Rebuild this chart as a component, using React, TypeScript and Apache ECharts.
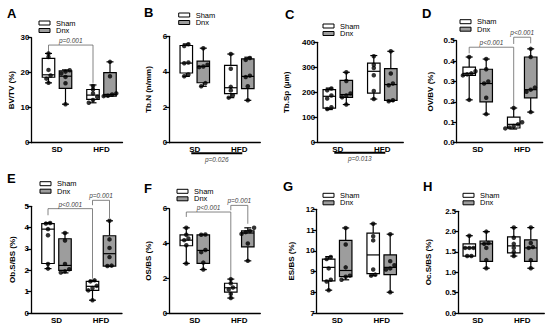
import React, { useEffect, useRef } from 'react';
import * as echarts from 'echarts';

// ---------- data ----------
const groupLabels = ['SD', 'HFD'];
const legendLabels = ['Sham', 'Dnx'];
const panelLetters = ['A', 'B', 'C', 'D', 'E', 'F', 'G', 'H'];
const yNames = ['BV/TV (%)', 'Tb.N (n/mm)', 'Tb.Sp (µm)', 'OV/BV (%)', 'Ob.S/BS (%)', 'OS/BS (%)', 'ES/BS (%)', 'Oc.S/BS (%)'];

// box stats [min, Q1, median, Q3, max] for Sham-SD, Dnx-SD, Sham-HFD, Dnx-HFD
const bvtvBox = [[17.1, 18.7, 19.4, 24.1, 25.5], [11.0, 15.5, 19.0, 20.5, 20.8], [11.4, 12.4, 13.6, 15.2, 16.5], [13.3, 13.3, 13.8, 20.0, 23.1]];
const bvtvPts = [[17.1, 18.3, 19.2, 20.8, 24.5, 25.5], [11.0, 17.0, 18.8, 19.8, 20.3, 20.7], [11.4, 12.2, 13.1, 14.1, 15.2, 16.2], [13.3, 13.4, 13.8, 14.1, 19.0, 23.1]];
const tbnBox = [[3.74, 3.93, 4.49, 5.48, 5.57], [3.18, 3.38, 4.3, 4.6, 5.33], [2.54, 2.77, 3.1, 4.36, 5.0], [2.39, 3.05, 3.74, 4.73, 4.82]];
const tbnPts = [[3.75, 3.85, 4.48, 4.52, 5.45, 5.55], [3.18, 3.36, 4.26, 4.3, 4.4, 5.33], [2.54, 2.67, 2.95, 3.15, 4.17, 5.0], [2.39, 3.18, 3.7, 3.78, 4.67, 4.78]];
const tbspBox = [[131, 137, 184, 211, 217], [151, 180, 191, 248, 280], [173, 197, 284, 317, 347], [164, 168, 231, 295, 364]];
const tbspPts = [[133, 140, 175, 187, 208, 215], [151, 180, 187, 195, 245, 280], [173, 205, 268, 297, 310, 344], [164, 168, 228, 235, 275, 364]];
const ovbvBox = [[0.21, 0.33, 0.34, 0.37, 0.42], [0.14, 0.2, 0.29, 0.36, 0.41], [0.067, 0.072, 0.09, 0.125, 0.17], [0.15, 0.22, 0.26, 0.42, 0.46]];
const ovbvPts = [[0.21, 0.33, 0.335, 0.34, 0.35, 0.42], [0.14, 0.22, 0.29, 0.3, 0.36, 0.41], [0.07, 0.075, 0.082, 0.09, 0.1, 0.17], [0.15, 0.25, 0.26, 0.27, 0.42, 0.46]];
const obsbsBox = [[2.08, 2.32, 3.93, 4.19, 4.23], [1.88, 2.0, 2.23, 3.48, 3.75], [0.6, 1.06, 1.25, 1.48, 1.53], [2.2, 2.2, 2.78, 3.62, 4.32]];
const obsbsPts = [[2.08, 2.3, 3.64, 3.93, 4.19, 4.22], [1.9, 1.95, 2.05, 2.3, 3.4, 3.75], [0.6, 1.06, 1.17, 1.27, 1.48, 1.53], [2.2, 2.22, 2.62, 3.05, 3.45, 4.32]];
const osbsBox = [[2.85, 3.87, 4.19, 4.5, 4.9], [2.5, 2.85, 3.6, 4.5, 4.52], [0.86, 1.2, 1.45, 1.71, 1.95], [3.0, 3.8, 4.6, 4.72, 4.9]];
const osbsPts = [[2.85, 3.9, 4.19, 4.29, 4.5, 4.9], [2.5, 2.9, 3.5, 3.62, 4.5, 4.52], [0.86, 1.1, 1.35, 1.47, 1.71, 1.95], [3.0, 4.0, 4.55, 4.65, 4.72, 4.9]];
const esbsBox = [[8.1, 8.55, 9.2, 9.6, 9.72], [8.6, 8.75, 9.05, 10.5, 11.1], [8.8, 8.9, 9.8, 10.85, 11.3], [8.0, 8.85, 9.2, 9.8, 10.8]];
const esbsPts = [[8.1, 8.52, 8.6, 9.15, 9.6, 9.7], [8.6, 8.75, 8.8, 9.2, 10.3, 11.1], [8.8, 8.85, 9.1, 10.5, 10.7, 11.3], [8.0, 9.1, 9.15, 9.3, 9.5, 10.8]];
const ocsbsBox = [[1.4, 1.4, 1.6, 1.7, 1.9], [1.1, 1.27, 1.7, 1.77, 2.0], [1.4, 1.48, 1.65, 1.87, 2.1], [1.1, 1.27, 1.6, 1.8, 2.1]];
const ocsbsPts = [[1.4, 1.4, 1.6, 1.6, 1.6, 1.9], [1.1, 1.3, 1.6, 1.7, 1.72, 2.0], [1.4, 1.5, 1.6, 1.7, 1.85, 2.1], [1.1, 1.3, 1.6, 1.62, 1.72, 2.1]];

// y-axis ranges [min, max, interval, decimals]
const yRanges = [[0, 30, 10, 0], [0, 6, 2, 0], [0, 400, 100, 0], [0, 0.5, 0.1, 1], [0, 5, 1, 0], [0, 6, 2, 0], [7, 12, 1, 0], [0, 2.5, 0.5, 1]];

// significance brackets: [fromBox, toBox, barValue, leftEndValue, rightEndValue, label]
const bracketsA = [[0, 2, 27.9, 25.6, 17.1, 'p=0.001']];
const bracketsD = [[0, 2, 0.468, 0.438, 0.174, 'p<0.001'], [2, 3, 0.517, 0.484, 0.487, 'p<0.001']];
const bracketsE = [[0, 2, 4.89, 4.58, 1.61, 'p<0.001'], [2, 3, 5.28, 5.05, 4.45, 'p=0.001']];
const bracketsF = [[0, 2, 5.81, 5.53, 2.1, 'p<0.001'], [2, 3, 6.19, 5.91, 5.14, 'p=0.001']];
// main-effect line under x axis: label
const underB = 'p=0.026';
const underC = 'p=0.013';

// ---------- layout ----------
const FONT = '"Liberation Sans", Arial, Helvetica, sans-serif';
const BOX_X = [17, 34, 61.5, 78.5];
const LABEL_X = [25.5, 70];
const UNDER_X = [22, 73];
const BOX_W = 12.5;
const CAP_W = 7;
const FILLS = ['#ffffff', '#9d9d9d'];

type Panel = {
  boxes: number[][];
  pts: number[][];
  left: number; top: number; bottom: number; nameGap: number; w: number; dx: number;
  title: number[]; legend: number[];
  brackets?: any[]; under?: string;
};

const panels: Panel[] = [
  { boxes: bvtvBox, pts: bvtvPts, left: 31.5, top: 37.7, bottom: 142.7, nameGap: 16, w: 91, dx: 0, title: [7, 13.5], legend: [39, 23], brackets: bracketsA },
  { boxes: tbnBox, pts: tbnPts, left: 169.3, top: 36.3, bottom: 142.7, nameGap: 16.5, w: 91, dx: 0, title: [144, 12.5], legend: [178.7, 15], under: underB },
  { boxes: tbspBox, pts: tbspPts, left: 317.3, top: 42.3, bottom: 142.3, nameGap: 26.5, w: 86, dx: -5, title: [285, 14], legend: [323, 26], under: underC },
  { boxes: ovbvBox, pts: ovbvPts, left: 456.7, top: 40.7, bottom: 142.7, nameGap: 22.5, w: 86, dx: -4.5, title: [422, 13], legend: [460, 21.7], brackets: bracketsD },
  { boxes: obsbsBox, pts: obsbsPts, left: 31, top: 206.3, bottom: 313, nameGap: 15, w: 91, dx: 0, title: [7, 178], legend: [40, 183.7], brackets: bracketsE },
  { boxes: osbsBox, pts: osbsPts, left: 169.3, top: 208.7, bottom: 313.7, nameGap: 17, w: 91, dx: 0, title: [144, 188], legend: [177, 191.3], brackets: bracketsF },
  { boxes: esbsBox, pts: esbsPts, left: 316.7, top: 209.3, bottom: 313.7, nameGap: 21, w: 86, dx: -5, title: [283, 186], legend: [323, 195.3] },
  { boxes: ocsbsBox, pts: ocsbsPts, left: 458.3, top: 211.3, bottom: 313, nameGap: 26, w: 86, dx: -6, title: [423, 186], legend: [463, 195.3] },
];

function spread(values: number[], ppu: number): number[] {
  const idx = values.map((_, i) => i).sort((a, b) => values[a] - values[b]);
  const offs = new Array(values.length).fill(0);
  let i = 0;
  while (i < idx.length) {
    let j = i;
    while (j + 1 < idx.length && (values[idx[j + 1]] - values[idx[j]]) * ppu < 3.2) j++;
    const n = j - i + 1;
    for (let k = 0; k < n; k++) offs[idx[i + k]] = (k - (n - 1) / 2) * 4.2;
    i = j + 1;
  }
  return offs;
}

function buildOption() {
  const grid: any[] = [];
  const xAxis: any[] = [];
  const yAxis: any[] = [];
  const series: any[] = [];
  const graphic: any[] = [];
  const lineStyle = { color: '#000', width: 1.3 };

  panels.forEach((p, pi) => {
    const [yMin, yMax, yInt, dec] = yRanges[pi];
    const height = p.bottom - p.top;
    const ppu = height / (yMax - yMin);
    const yPx = (v: number) => p.top + (yMax - v) * ppu;
    const boxX = BOX_X.map((x) => x + p.dx);
    const labelX = LABEL_X.map((x) => x + p.dx);
    const underX = UNDER_X.map((x) => x + p.dx);
    const xPx = (x: number) => p.left + x;

    grid.push({ left: p.left, top: p.top, width: p.w, height });
    xAxis.push({
      gridIndex: pi, type: 'value', min: 0, max: p.w,
      axisLine: { show: true, onZero: false, lineStyle },
      axisTick: { show: false }, splitLine: { show: false },
      axisLabel: {
        customValues: labelX,
        formatter: (v: number) => {
          const i = labelX.findIndex((x) => Math.abs(x - v) < 0.5);
          return i >= 0 ? groupLabels[i] : '';
        },
        fontSize: 8, fontWeight: 'bold', color: '#000', fontFamily: FONT, margin: 3,
      },
    });
    yAxis.push({
      gridIndex: pi, type: 'value', min: yMin, max: yMax, interval: yInt,
      name: yNames[pi], nameLocation: 'middle', nameGap: p.nameGap,
      nameTextStyle: { fontSize: 8, fontWeight: 'bold', color: '#000', fontFamily: FONT },
      axisLine: { show: true, lineStyle },
      axisTick: { show: true, length: 4, lineStyle },
      splitLine: { show: false },
      axisLabel: {
        fontSize: 8, fontWeight: 'bold', color: '#000', fontFamily: FONT, margin: 2,
        formatter: (v: number) => v.toFixed(dec),
      },
    });

    series.push({
      type: 'custom', xAxisIndex: pi, yAxisIndex: pi, silent: true, z: 2,
      data: p.boxes.map((b, i) => [boxX[i], ...b, i % 2]),
      encode: { x: 0, y: [1, 2, 3, 4, 5] },
      renderItem: (_params: any, api: any) => {
        const x = api.value(0);
        const c = (v: number) => api.coord([x, v]);
        const pMin = c(api.value(1));
        const pQ1 = c(api.value(2));
        const pMed = c(api.value(3));
        const pQ3 = c(api.value(4));
        const pMax = c(api.value(5));
        const fill = FILLS[api.value(6)];
        const cx = pMin[0];
        const hw = BOX_W / 2;
        const hc = CAP_W / 2;
        const st = { stroke: '#000', lineWidth: 1.2 };
        return {
          type: 'group',
          children: [
            { type: 'line', shape: { x1: cx, y1: pQ1[1], x2: cx, y2: pMin[1] }, style: st },
            { type: 'line', shape: { x1: cx, y1: pQ3[1], x2: cx, y2: pMax[1] }, style: st },
            { type: 'line', shape: { x1: cx - hc, y1: pMin[1], x2: cx + hc, y2: pMin[1] }, style: st },
            { type: 'line', shape: { x1: cx - hc, y1: pMax[1], x2: cx + hc, y2: pMax[1] }, style: st },
            { type: 'rect', shape: { x: cx - hw, y: pQ3[1], width: hw * 2, height: Math.max(pQ1[1] - pQ3[1], 0.5) }, style: { fill, stroke: '#000', lineWidth: 1.2 } },
            { type: 'line', shape: { x1: cx - hw, y1: pMed[1], x2: cx + hw, y2: pMed[1] }, style: st },
          ],
        };
      },
    });

    const pts: number[][] = [];
    p.pts.forEach((arr, i) => {
      const offs = spread(arr, ppu);
      arr.forEach((v, k) => pts.push([boxX[i] + offs[k], v]));
    });
    series.push({
      type: 'scatter', xAxisIndex: pi, yAxisIndex: pi, silent: true, z: 5,
      data: pts, symbolSize: 4.5, itemStyle: { color: '#000' },
    });

    // panel letter
    graphic.push({
      type: 'text', x: p.title[0], y: p.title[1],
      style: { text: panelLetters[pi], fontSize: 13, fontWeight: 'bold', fontFamily: FONT, fill: '#000', textAlign: 'left', textVerticalAlign: 'middle' },
    });
    // legend
    legendLabels.forEach((lab, li) => {
      const cy = p.legend[1] + li * 7.5;
      graphic.push({
        type: 'rect', shape: { x: p.legend[0], y: cy - 2, width: 11, height: 4 },
        style: { fill: FILLS[li], stroke: '#000', lineWidth: 1 },
      });
      graphic.push({
        type: 'text', x: p.legend[0] + 17, y: cy,
        style: { text: lab, fontSize: 7.5, fontFamily: FONT, fill: '#000', textAlign: 'left', textVerticalAlign: 'middle' },
      });
    });
    // brackets
    (p.brackets || []).forEach((b: any[]) => {
      const [from, to, bar, le, re, lab] = b;
      const x1 = xPx(boxX[from]);
      const x2 = xPx(boxX[to]);
      graphic.push({
        type: 'polyline',
        shape: { points: [[x1, yPx(le)], [x1, yPx(bar)], [x2, yPx(bar)], [x2, yPx(re)]] },
        style: { stroke: '#666', lineWidth: 0.8, fill: null },
      });
      graphic.push({
        type: 'text', x: (x1 + x2) / 2, y: yPx(bar) - 1,
        style: { text: lab, fontSize: 6.5, fontStyle: 'italic', fontFamily: FONT, fill: '#444', textAlign: 'center', textVerticalAlign: 'bottom' },
      });
    });
    if (p.under) {
      const y = p.bottom + 10.5;
      graphic.push({
        type: 'line', shape: { x1: xPx(underX[0]), y1: y, x2: xPx(underX[1]), y2: y },
        style: { stroke: '#000', lineWidth: 2 },
      });
      graphic.push({
        type: 'text', x: xPx((underX[0] + underX[1]) / 2), y: y + 6,
        style: { text: p.under, fontSize: 6.5, fontStyle: 'italic', fontFamily: FONT, fill: '#444', textAlign: 'center', textVerticalAlign: 'middle' },
      });
    }
  });

  return {
    animation: false,
    backgroundColor: '#ffffff',
    textStyle: { fontFamily: FONT },
    grid, xAxis, yAxis, series, graphic,
  };
}

export default function App() {
  const ref = useRef<HTMLDivElement>(null);
  useEffect(() => {
    document.body.style.margin = '0';
    if (!ref.current) return;
    const chart = echarts.init(ref.current, undefined, { renderer: 'svg' });
    chart.setOption(buildOption() as any);
    return () => chart.dispose();
  }, []);
  return <div ref={ref} style={{ width: 550, height: 324 }} />;
}
